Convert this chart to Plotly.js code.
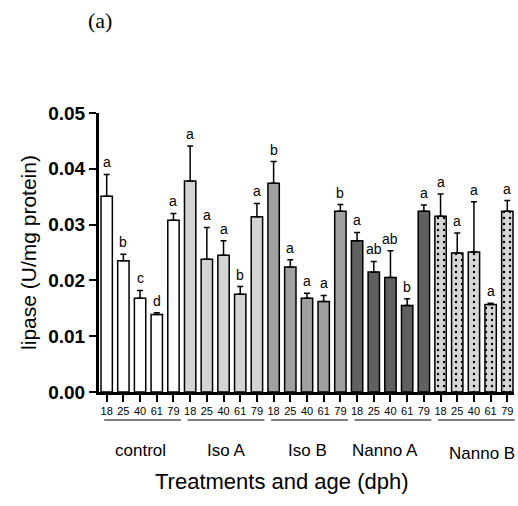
<!DOCTYPE html>
<html>
<head>
<meta charset="utf-8">
<script src="https://cdn.plot.ly/plotly-3.0.1.min.js"></script>
<style>html,body{margin:0;padding:0;background:#fff;}#chart{width:518px;height:506px;}</style>
</head>
<body>
<div id="chart"></div>
<script>
const ages = ['18','25','40','61','79'];
const groups = ['control','Iso A','Iso B','Nanno A','Nanno B'];
const controlMean = [0.0351,0.0235,0.0168,0.0139,0.0308];
const controlTop  = [0.0390,0.0247,0.0182,0.0142,0.0320];
const controlLet  = ['a','b','c','d','a'];
const isoAMean = [0.0378,0.0238,0.0245,0.0175,0.0314];
const isoATop  = [0.0441,0.0295,0.0271,0.0189,0.0338];
const isoALet  = ['a','a','a','b','a'];
const isoBMean = [0.0374,0.0224,0.0168,0.0162,0.0324];
const isoBTop  = [0.0413,0.0237,0.0177,0.0173,0.0336];
const isoBLet  = ['b','a','a','a','b'];
const nannoAMean = [0.0271,0.0215,0.0205,0.0155,0.0324];
const nannoATop  = [0.0286,0.0234,0.0253,0.0167,0.0335];
const nannoALet  = ['a','ab','ab','b','a'];
const nannoBMean = [0.0315,0.0249,0.0251,0.0157,0.0324];
const nannoBTop  = [0.0355,0.0285,0.0341,0.0159,0.0343];
const nannoBLet  = ['a','a','a','a','a'];
const yTickVals = [0,0.01,0.02,0.03,0.04,0.05];
const yTickText = ['0.00','0.01','0.02','0.03','0.04','0.05'];

const means = [controlMean,isoAMean,isoBMean,nannoAMean,nannoBMean];
const tops = [controlTop,isoATop,isoBTop,nannoATop,nannoBTop];
const lets = [controlLet,isoALet,isoBLet,nannoALet,nannoBLet];
const fills = ['#ffffff','#d4d4d4','#a0a0a0','#606060','#d6d6d6'];

const W = 518, H = 506, ML = 99, MR = 4, MT = 113, MB = 114;
const PH = H - MT - MB;
const xr = [-0.46, 24.4];
const toPaperX = v => (v - xr[0]) / (xr[1] - xr[0]);
const pyToPaper = py => (H - MB - py) / PH;
const pxToPaper = px => (px - ML) / (W - ML - MR);
const SANS = 'Liberation Sans, Arial, sans-serif';

const traces = [];
const annotations = [];
const shapes = [];
const tickvals = [], ticktext = [];
const labelCenterPx = [140, 226, 307, 385, 482];
const labelYPx = [450, 450, 450, 450, 453];
groups.forEach((g, gi) => {
  const xs = ages.map((a, ai) => gi*5 + ai);
  xs.forEach((x, ai) => { tickvals.push(x); ticktext.push(ages[ai]); });
  const tr = {
    type: 'bar', x: xs, y: means[gi], width: 0.68, name: g,
    marker: {color: fills[gi], line: {color: '#000', width: 1.5}},
    error_y: {type: 'data', symmetric: false, array: tops[gi].map((t, i) => t - means[gi][i]),
      arrayminus: means[gi].map(() => 0), color: '#000', thickness: 1.5, width: 3},
    hoverinfo: 'none'
  };
  if (gi === 4) {
    tr.marker.pattern = {shape: '.', fgcolor: '#000', bgcolor: fills[gi], size: 6, solidity: 0.12};
  }
  traces.push(tr);
  xs.forEach((x, ai) => {
    annotations.push({x: x, y: tops[gi][ai], xref: 'x', yref: 'y', text: lets[gi][ai],
      showarrow: false, yanchor: 'bottom', yshift: 2,
      font: {family: SANS, size: 14, color: '#000'}});
  });
  shapes.push({type: 'line', xref: 'paper', yref: 'paper',
    x0: toPaperX(gi*5 - 0.15), x1: toPaperX(gi*5 + 4.45), y0: pyToPaper(420), y1: pyToPaper(420),
    line: {color: '#000', width: 1}});
  annotations.push({x: pxToPaper(labelCenterPx[gi]), y: pyToPaper(labelYPx[gi]), xref: 'paper', yref: 'paper',
    text: g, showarrow: false, xanchor: 'center', yanchor: 'middle',
    font: {family: SANS, size: 17, color: '#000'}});
});
annotations.push({x: pxToPaper(282), y: pyToPaper(481), xref: 'paper', yref: 'paper',
  text: 'Treatments and age (dph)', showarrow: false, xanchor: 'center', yanchor: 'middle',
  font: {family: SANS, size: 22, color: '#000'}});
annotations.push({x: pxToPaper(100), y: pyToPaper(20), xref: 'paper', yref: 'paper', text: '(a)',
  showarrow: false, xanchor: 'center', yanchor: 'middle',
  font: {family: 'Liberation Serif, Times New Roman, serif', size: 22, color: '#000'}});

const layout = {
  width: W, height: H,
  margin: {l: ML, r: MR, t: MT, b: MB},
  paper_bgcolor: '#fff', plot_bgcolor: '#fff',
  showlegend: false, barmode: 'overlay',
  font: {family: SANS, color: '#000'},
  xaxis: {range: xr, tickmode: 'array', tickvals: tickvals, ticktext: ticktext,
    showline: true, linecolor: '#000', linewidth: 2.5, ticks: 'outside', ticklen: 7, tickwidth: 2,
    tickcolor: '#000', showgrid: false, zeroline: false, tickangle: 0,
    tickfont: {size: 11, color: '#000'}},
  yaxis: {range: [0, 0.05], tickmode: 'array', tickvals: yTickVals, ticktext: yTickText,
    showline: true, linecolor: '#000', linewidth: 3, ticks: 'outside', ticklen: 7, tickwidth: 2,
    tickcolor: '#000', showgrid: false, zeroline: false,
    tickfont: {size: 19, color: '#000', weight: 'bold'},
    title: {text: 'lipase (U/mg protein)', font: {size: 21, color: '#000'}, standoff: 6}},
  shapes: shapes,
  annotations: annotations
};
Plotly.newPlot('chart', traces, layout, {displayModeBar: false, staticPlot: true});
</script>
</body>
</html>
